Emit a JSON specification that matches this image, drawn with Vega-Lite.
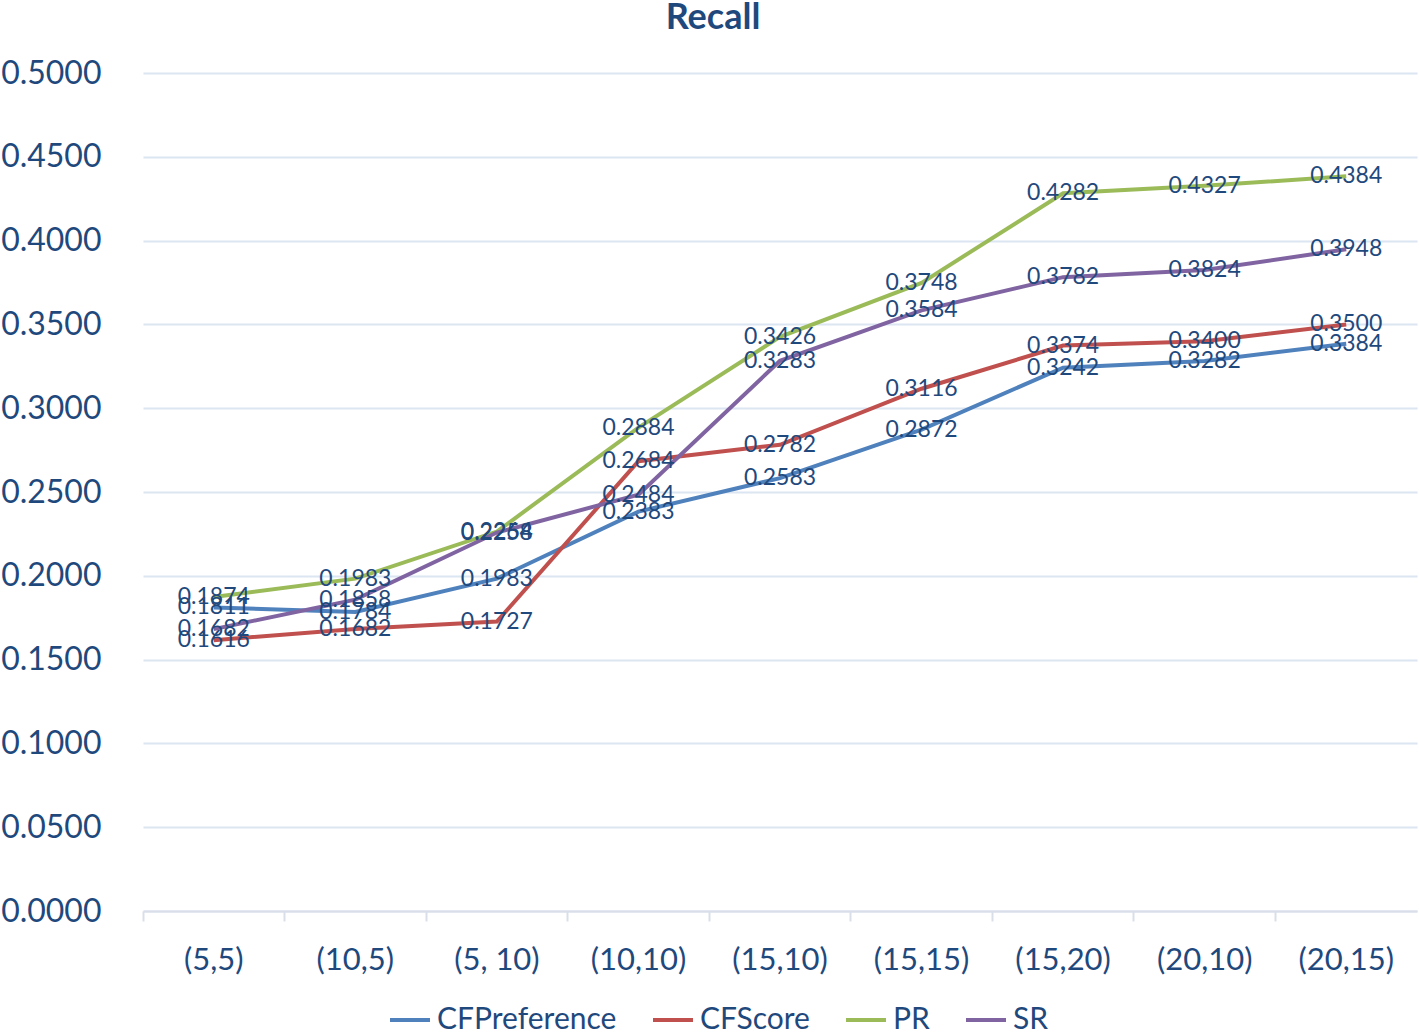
{
  "$schema": "https://vega.github.io/schema/vega-lite/v6.json",
  "width": 1274,
  "height": 838,
  "autosize": {"type": "none"},
  "padding": {"left": 143, "top": 73, "right": 2, "bottom": 121},
  "background": "white",
  "config": {
    "font": "Lato",
    "view": {"stroke": null}
  },
  "title": {
    "text": "Recall",
    "font": "Lato",
    "fontSize": 36,
    "fontWeight": "bold",
    "color": "#1F497D",
    "anchor": "middle",
    "dx": -67,
    "offset": 20
  },
  "data": {
    "values": [
      {"setting": "(5,5)", "series": "CFPreference", "value": 0.1811},
      {"setting": "(10,5)", "series": "CFPreference", "value": 0.1784},
      {"setting": "(5, 10)", "series": "CFPreference", "value": 0.1983},
      {"setting": "(10,10)", "series": "CFPreference", "value": 0.2383},
      {"setting": "(15,10)", "series": "CFPreference", "value": 0.2583},
      {"setting": "(15,15)", "series": "CFPreference", "value": 0.2872},
      {"setting": "(15,20)", "series": "CFPreference", "value": 0.3242},
      {"setting": "(20,10)", "series": "CFPreference", "value": 0.3282},
      {"setting": "(20,15)", "series": "CFPreference", "value": 0.3384},
      {"setting": "(5,5)", "series": "CFScore", "value": 0.1616},
      {"setting": "(10,5)", "series": "CFScore", "value": 0.1682},
      {"setting": "(5, 10)", "series": "CFScore", "value": 0.1727},
      {"setting": "(10,10)", "series": "CFScore", "value": 0.2684},
      {"setting": "(15,10)", "series": "CFScore", "value": 0.2782},
      {"setting": "(15,15)", "series": "CFScore", "value": 0.3116},
      {"setting": "(15,20)", "series": "CFScore", "value": 0.3374},
      {"setting": "(20,10)", "series": "CFScore", "value": 0.3400},
      {"setting": "(20,15)", "series": "CFScore", "value": 0.3500},
      {"setting": "(5,5)", "series": "PR", "value": 0.1874},
      {"setting": "(10,5)", "series": "PR", "value": 0.1983},
      {"setting": "(5, 10)", "series": "PR", "value": 0.2264},
      {"setting": "(10,10)", "series": "PR", "value": 0.2884},
      {"setting": "(15,10)", "series": "PR", "value": 0.3426},
      {"setting": "(15,15)", "series": "PR", "value": 0.3748},
      {"setting": "(15,20)", "series": "PR", "value": 0.4282},
      {"setting": "(20,10)", "series": "PR", "value": 0.4327},
      {"setting": "(20,15)", "series": "PR", "value": 0.4384},
      {"setting": "(5,5)", "series": "SR", "value": 0.1682},
      {"setting": "(10,5)", "series": "SR", "value": 0.1858},
      {"setting": "(5, 10)", "series": "SR", "value": 0.2258},
      {"setting": "(10,10)", "series": "SR", "value": 0.2484},
      {"setting": "(15,10)", "series": "SR", "value": 0.3283},
      {"setting": "(15,15)", "series": "SR", "value": 0.3584},
      {"setting": "(15,20)", "series": "SR", "value": 0.3782},
      {"setting": "(20,10)", "series": "SR", "value": 0.3824},
      {"setting": "(20,15)", "series": "SR", "value": 0.3948}
    ]
  },
  "encoding": {
    "x": {
      "field": "setting",
      "type": "nominal",
      "sort": ["(5,5)", "(10,5)", "(5, 10)", "(10,10)", "(15,10)", "(15,15)", "(15,20)", "(20,10)", "(20,15)"],
      "bandPosition": 0.5,
      "scale": {"type": "band", "paddingInner": 0, "paddingOuter": 0},
      "axis": {
        "title": null,
        "bandPosition": 0,
        "labelAngle": 0,
        "labelAlign": "center",
        "labelDx": 70.8,
        "labelFont": "Lato",
        "labelFontSize": 31,
        "labelColor": "#1F497D",
        "labelPadding": 24,
        "domainColor": "#D9DEE8",
        "domainWidth": 2,
        "tickColor": "#D9DEE8",
        "tickWidth": 2,
        "tickSize": 10,
        "grid": false
      }
    },
    "y": {
      "field": "value",
      "type": "quantitative",
      "scale": {"domain": [0, 0.5], "nice": false},
      "axis": {
        "title": null,
        "values": [0, 0.05, 0.1, 0.15, 0.2, 0.25, 0.3, 0.35, 0.4, 0.45, 0.5],
        "format": ".4f",
        "domain": false,
        "ticks": false,
        "labelFont": "Lato",
        "labelFontSize": 32,
        "labelColor": "#1F497D",
        "labelPadding": 42,
        "gridColor": "#DCE5F2",
        "gridWidth": 2
      }
    },
    "color": {
      "field": "series",
      "type": "nominal",
      "scale": {
        "domain": ["CFPreference", "CFScore", "PR", "SR"],
        "range": ["#4F81BD", "#C0504D", "#9BBB59", "#8064A2"]
      },
      "legend": {
        "title": null,
        "orient": "none",
        "direction": "horizontal",
        "legendX": 245,
        "legendY": 925,
        "symbolType": "stroke",
        "symbolStrokeWidth": 4,
        "symbolSize": 1600,
        "labelFont": "Lato",
        "labelFontSize": 30,
        "labelLimit": 0,
        "labelColor": "#1F497D",
        "labelOffset": 5,
        "columnPadding": 28
      }
    }
  },
  "layer": [
    {
      "mark": {"type": "line", "strokeWidth": 4}
    },
    {
      "mark": {"type": "text", "fontSize": 23, "font": "Lato", "align": "center", "baseline": "middle", "color": "#1F497D"},
      "encoding": {
        "text": {"field": "value", "type": "quantitative", "format": ".4f"},
        "color": {"value": "#1F497D"}
      }
    }
  ]
}
